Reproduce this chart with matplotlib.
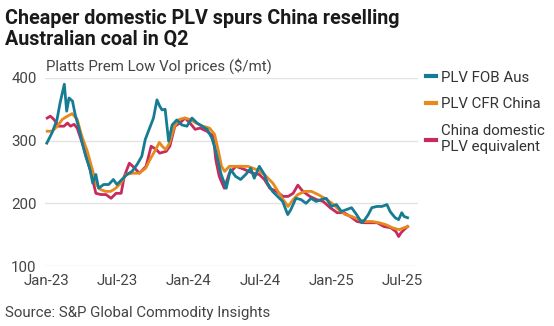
import matplotlib
matplotlib.use("Agg")
import matplotlib.pyplot as plt
import matplotlib.dates as mdates
import pandas as pd

plt.rcParams['font.family'] = ['Roboto', 'DejaVu Sans']

# Data
fob_dates = ["2023-01-01", "2023-01-14", "2023-01-27", "2023-02-04", "2023-02-15", "2023-02-21",
             "2023-02-27", "2023-03-08", "2023-03-15", "2023-03-23", "2023-04-01", "2023-04-11",
             "2023-04-22", "2023-04-29", "2023-05-07", "2023-05-14", "2023-05-27", "2023-06-09",
             "2023-06-21", "2023-06-30", "2023-07-13", "2023-07-26", "2023-08-08", "2023-08-21",
             "2023-09-02", "2023-09-11", "2023-09-24", "2023-10-02", "2023-10-11", "2023-10-18",
             "2023-10-24", "2023-11-01", "2023-11-10", "2023-11-19", "2023-12-01", "2023-12-14",
             "2023-12-27", "2024-01-09", "2024-01-22", "2024-02-04", "2024-02-17", "2024-02-29",
             "2024-03-09", "2024-03-15", "2024-03-24", "2024-04-06", "2024-04-17", "2024-04-30",
             "2024-05-13", "2024-05-26", "2024-06-08", "2024-06-17", "2024-06-30", "2024-07-13",
             "2024-07-21", "2024-08-03", "2024-08-16", "2024-08-29", "2024-09-11", "2024-09-19",
             "2024-10-02", "2024-10-15", "2024-10-28", "2024-11-10", "2024-11-23", "2024-12-06",
             "2024-12-19", "2025-01-01", "2025-01-14", "2025-01-27", "2025-02-09", "2025-02-22",
             "2025-03-07", "2025-03-20", "2025-03-28", "2025-04-06", "2025-04-15", "2025-04-28",
             "2025-05-11", "2025-05-24", "2025-06-01", "2025-06-14", "2025-06-23", "2025-07-01",
             "2025-07-07", "2025-07-16"]
fob = [296, 312, 333, 360, 390, 347,
       368, 363, 341, 323, 299, 275,
       254, 232, 246, 224, 230, 230,
       238, 230, 238, 246, 251, 262,
       275, 302, 323, 336, 365, 355,
       349, 350, 299, 325, 333, 325,
       323, 336, 328, 323, 318, 304,
       286, 270, 246, 224, 254, 243,
       238, 246, 256, 240, 259, 246,
       232, 219, 211, 203, 182, 190,
       208, 206, 200, 208, 203, 206,
       208, 195, 198, 187, 190, 193,
       182, 169, 174, 182, 193, 195,
       195, 198, 187, 177, 174, 185,
       179, 177]

cfr_dates = ["2023-01-02", "2023-01-15", "2023-01-28", "2023-02-10", "2023-02-23", "2023-03-07",
             "2023-03-20", "2023-04-01", "2023-04-15", "2023-04-28", "2023-05-08", "2023-05-19",
             "2023-06-01", "2023-06-14", "2023-06-27", "2023-07-10", "2023-07-23", "2023-08-09",
             "2023-08-26", "2023-09-12", "2023-09-25", "2023-10-08", "2023-10-17", "2023-10-26",
             "2023-11-03", "2023-11-12", "2023-11-25", "2023-12-08", "2023-12-21", "2024-01-03",
             "2024-01-20", "2024-02-06", "2024-02-23", "2024-03-07", "2024-03-16", "2024-03-25",
             "2024-04-02", "2024-04-14", "2024-05-05", "2024-06-01", "2024-06-22", "2024-07-13",
             "2024-08-04", "2024-08-17", "2024-08-30", "2024-09-12", "2024-09-25", "2024-10-07",
             "2024-10-25", "2024-11-11", "2024-11-28", "2024-12-15", "2025-01-03", "2025-01-20",
             "2025-02-06", "2025-02-23", "2025-03-13", "2025-03-30", "2025-04-16", "2025-05-04",
             "2025-05-21", "2025-06-07", "2025-06-24", "2025-07-07", "2025-07-16"]
cfr = [315, 315, 323, 334, 339, 343,
       334, 307, 283, 254, 230, 222,
       219, 219, 224, 232, 246, 248,
       248, 256, 272, 286, 297, 290,
       286, 296, 323, 334, 336, 334,
       328, 323, 320, 310, 286, 259,
       251, 259, 259, 259, 254, 246,
       232, 219, 206, 195, 206, 214,
       219, 219, 214, 208, 200, 190,
       182, 179, 174, 171, 171, 169,
       166, 161, 158, 161, 163]

dom_dates = ["2023-01-02", "2023-01-10", "2023-01-19", "2023-02-01", "2023-02-14", "2023-02-23",
             "2023-03-03", "2023-03-12", "2023-03-20", "2023-04-02", "2023-04-15", "2023-04-27",
             "2023-05-07", "2023-05-20", "2023-06-02", "2023-06-15", "2023-06-28", "2023-07-11",
             "2023-07-19", "2023-08-01", "2023-08-10", "2023-08-27", "2023-09-13", "2023-09-26",
             "2023-10-09", "2023-10-18", "2023-11-04", "2023-11-13", "2023-11-26", "2023-12-09",
             "2023-12-22", "2024-01-04", "2024-01-17", "2024-01-30", "2024-02-16", "2024-03-04",
             "2024-03-10", "2024-03-19", "2024-04-01", "2024-04-14", "2024-05-01", "2024-05-23",
             "2024-06-13", "2024-06-30", "2024-07-13", "2024-07-27", "2024-08-13", "2024-08-30",
             "2024-09-12", "2024-09-25", "2024-10-07", "2024-10-20", "2024-11-07", "2024-11-24",
             "2024-12-11", "2024-12-29", "2025-01-16", "2025-02-02", "2025-02-19", "2025-03-08",
             "2025-03-26", "2025-04-12", "2025-04-29", "2025-05-16", "2025-06-03", "2025-06-16",
             "2025-06-23", "2025-06-29", "2025-07-07", "2025-07-16"]
dom = [336, 339, 334, 323, 323, 328,
       323, 326, 320, 296, 270, 243,
       216, 214, 214, 208, 216, 216,
       243, 264, 259, 248, 259, 291,
       286, 280, 283, 291, 323, 328,
       336, 328, 318, 320, 315, 307,
       270, 243, 224, 248, 259, 254,
       248, 246, 238, 224, 219, 211,
       211, 216, 229, 219, 211, 206,
       203, 193, 185, 185, 179, 171,
       169, 169, 169, 163, 161, 155,
       147, 153, 158, 163]

labels = ["PLV FOB Aus", "PLV CFR China", "China domestic\nPLV equivalent"]
colors = ["#157c93", "#e8891c", "#c82a5c"]
yticks = [100, 200, 300, 400]
xticks = ["2023-01-01", "2023-07-01", "2024-01-01", "2024-07-01", "2025-01-01", "2025-07-01"]

fig = plt.figure(figsize=(5.54, 3.26), dpi=100)
ax = fig.add_axes([0.081, 0.184, 0.673, 0.577])

ax.plot(pd.to_datetime(dom_dates), dom, color=colors[2], lw=2.0, zorder=3, label=labels[2])
ax.plot(pd.to_datetime(cfr_dates), cfr, color=colors[1], lw=2.0, zorder=4, label=labels[1])
ax.plot(pd.to_datetime(fob_dates), fob, color=colors[0], lw=2.0, zorder=5, label=labels[0])

ax.set_ylim(100, 400)
ax.set_yticks(yticks)
ax.set_xlim(pd.Timestamp("2022-12-27"), pd.Timestamp("2025-08-11"))
ax.set_xticks(pd.to_datetime(xticks))
ax.xaxis.set_major_formatter(mdates.DateFormatter("%b-%y"))
ax.grid(axis='y', color='#e3e3e3', lw=1.0, zorder=0)
for s in ax.spines.values():
    s.set_visible(False)
ax.tick_params(length=0, labelsize=10.8, colors='#444444', pad=6)

# legend with short handles
handles, labs = ax.get_legend_handles_labels()
order = [2, 1, 0]
leg = ax.legend([handles[i] for i in order], [labs[i] for i in order],
                loc='upper left', bbox_to_anchor=(0.985, 1.11), frameon=False,
                handlelength=0.7, handletextpad=0.35, labelspacing=0.85,
                fontsize=10.8, labelcolor='#333333')
for h in leg.get_lines():
    h.set_linewidth(3)

fig.text(0.009, 0.972, "Cheaper domestic PLV spurs China reselling\nAustralian coal in Q2",
         fontsize=14.2, fontweight='bold', color='#1a1a1a', va='top', ha='left', linespacing=1.12)
fig.text(0.083, 0.782, "Platts Prem Low Vol prices ($/mt)", fontsize=10.8,
         color='#444444', va='baseline', ha='left')
fig.text(0.009, 0.04, "Source: S&P Global Commodity Insights", fontsize=10.8,
         color='#444444', va='center', ha='left')

fig.savefig("out.png", dpi=100)
